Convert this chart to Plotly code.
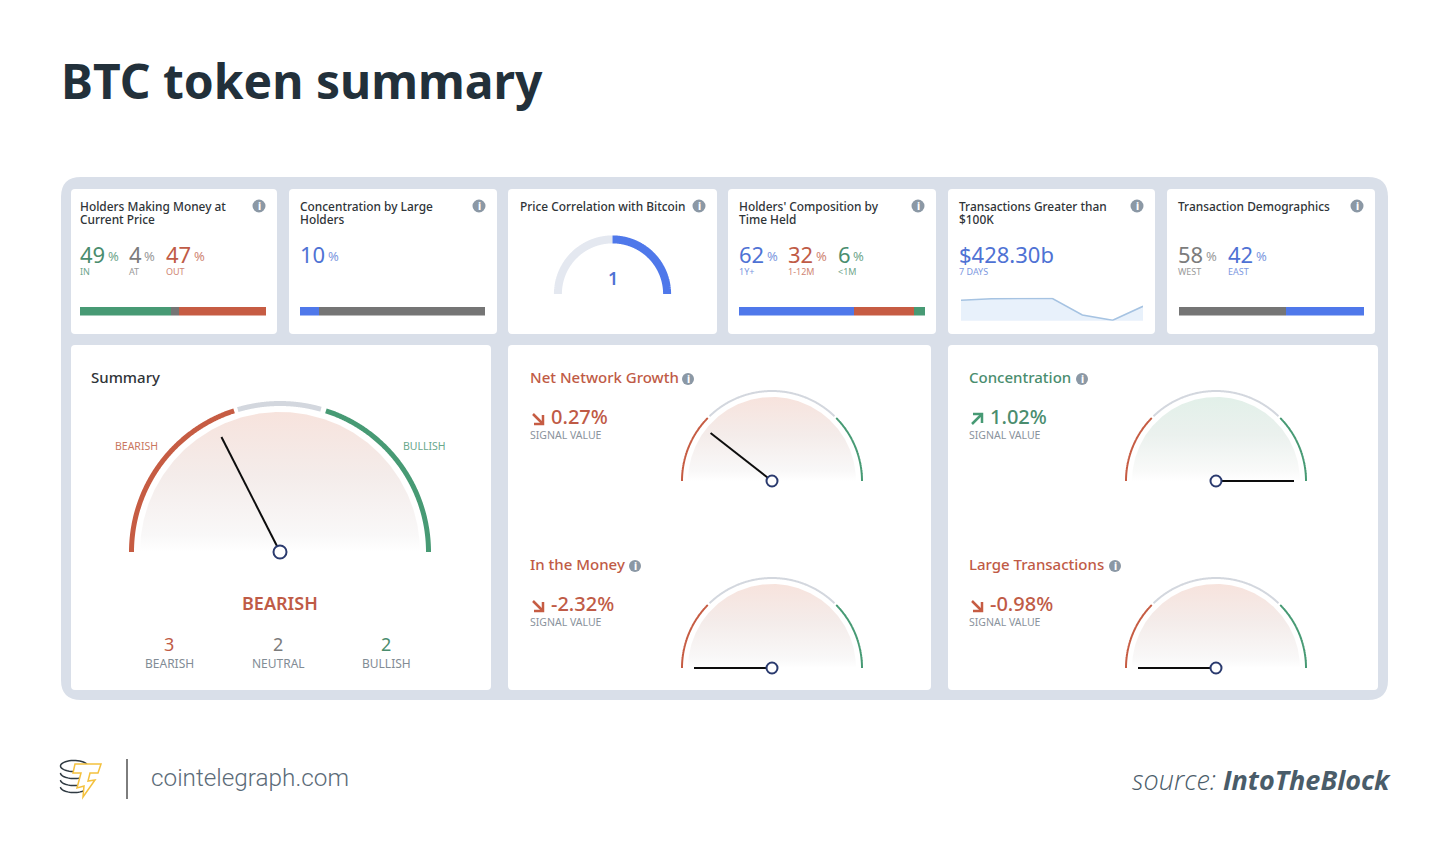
import numpy as np
import plotly.graph_objects as go

W, H = 1450, 859

RED = "#c65c43"
GREEN = "#479a74"
BLUE = "#4f78ea"
GREY = "#757575"
TXT_RED = "#bf5b46"
TXT_GREEN = "#4a8d6e"
TXT_BLUE = "#4f72d4"
TXT_GREY = "#7c7c7c"
FONT = "Noto Sans"

# top row cards
card_titles = ["Holders Making Money at<br>Current Price", "Concentration by Large<br>Holders",
               "Price Correlation with Bitcoin", "Holders' Composition by<br>Time Held",
               "Transactions Greater than<br>$100K", "Transaction Demographics"]

holders_labels = ["IN", "AT", "OUT"]
holders_values = [49, 4, 47]
concentration_values = [10, 90]
composition_labels = ["1Y+", "1-12M", "<1M"]
composition_values = [62, 32, 6]
demographics_labels = ["WEST", "EAST"]
demographics_values = [58, 42]
price_correlation = 1

transactions_total = "$428.30b"
transactions_label = "7 DAYS"
transactions_days = [1, 2, 3, 4, 5, 6, 7]
transactions_daily = [66.2, 67.7, 68.1, 68.2, 51.5, 46.2, 60.2]

# summary gauge
summary_title = "Summary"
summary_signal = "BEARISH"
summary_labels = ["BEARISH", "NEUTRAL", "BULLISH"]
summary_counts = [3, 2, 2]
summary_needle_deg = 117

# signal gauges
signal_names = ["Net Network Growth", "In the Money", "Concentration", "Large Transactions"]
signal_values = ["0.27%", "-2.32%", "1.02%", "-0.98%"]
signal_needle_deg = [142, 180, 0, 180]

fig = go.Figure()
shapes = []
notes = []
n_axes = 0


def fx(px):
    return px / W


def fy(py):
    return 1 - py / H


def text(px, py, s, size, color, anchor="left", weight=400, family=FONT, style="normal"):
    # Noto sits about a pixel low in its box
    notes.append(dict(x=fx(px), y=fy(py - 0.8), xref="paper", yref="paper", text=s, showarrow=False,
                      xanchor=anchor, yanchor="middle", align=anchor, borderpad=0, borderwidth=0,
                      font=dict(family=family, size=size, color=color, weight=weight, style=style)))


def path(points, fill=None, line=None, width=0, close=False, layer="above"):
    d = "M" + " L".join(f"{fx(x):.5f},{fy(y):.5f}" for x, y in points) + (" Z" if close else "")
    shapes.append(dict(type="path", path=d, xref="paper", yref="paper", layer=layer,
                       fillcolor=fill or "rgba(0,0,0,0)",
                       line=dict(color=line or "rgba(0,0,0,0)", width=width)))


def round_rect(x0, y0, x1, y1, r, color):
    p = lambda x, y: f"{fx(x):.5f},{fy(y):.5f}"
    d = (f"M{p(x0 + r, y0)} L{p(x1 - r, y0)} Q{p(x1, y0)} {p(x1, y0 + r)} "
         f"L{p(x1, y1 - r)} Q{p(x1, y1)} {p(x1 - r, y1)} "
         f"L{p(x0 + r, y1)} Q{p(x0, y1)} {p(x0, y1 - r)} "
         f"L{p(x0, y0 + r)} Q{p(x0, y0)} {p(x0 + r, y0)} Z")
    shapes.append(dict(type="path", path=d, xref="paper", yref="paper", layer="below",
                       fillcolor=color, line=dict(width=0)))


def info(px, py, r=6.5):
    shapes.append(dict(type="circle", xref="paper", yref="paper", fillcolor="#8b98a5", line=dict(width=0),
                       x0=fx(px - r), x1=fx(px + r), y0=fy(py + r), y1=fy(py - r)))
    text(px, py + 0.8, "i", 10, "white", "center", 800)


def add_axes(left, top, right, bottom, xrange, yrange):
    # small invisible axes pinned to a pixel box
    global n_axes
    n_axes += 1
    fig.layout[f"xaxis{n_axes}"] = dict(domain=[fx(left), fx(right)], range=xrange, visible=False,
                                        fixedrange=True, anchor=f"y{n_axes}")
    fig.layout[f"yaxis{n_axes}"] = dict(domain=[fy(bottom), fy(top)], range=yrange, visible=False,
                                        fixedrange=True, anchor=f"x{n_axes}")
    return f"x{n_axes}", f"y{n_axes}"


def stacked_bar(left, right, values, colors):
    xa, ya = add_axes(left, 307, right, 315.5, [0, sum(values)], [-0.5, 0.5])
    for v, c in zip(values, colors):
        fig.add_trace(go.Bar(x=[v], y=[0], width=1, orientation="h", marker=dict(color=c, line=dict(width=0)),
                             xaxis=xa, yaxis=ya, hoverinfo="skip", showlegend=False))


def arc(radius, a0, a1):
    t = np.radians(np.linspace(a0, a1, 240))
    return radius * np.cos(t), radius * np.sin(t)


def arc_line(radius, a0, a1, color, width, xa, ya):
    x, y = arc(radius, a0, a1)
    fig.add_trace(go.Scatter(x=x, y=y, mode="lines", line=dict(color=color, width=width, simplify=False),
                             xaxis=xa, yaxis=ya, hoverinfo="skip", showlegend=False))


def gauge(cx, cy, r_arc, r_dome, arc_w, bands, tints, needle_deg, needle_len, needle_w, knob):
    box = r_arc + 8
    xa, ya = add_axes(cx - box, cy - box, cx + box, cy + 12, [-box, box], [-12, box])
    x, y = arc(r_dome, 180, 0)
    fig.add_trace(go.Scatter(x=x, y=y, mode="lines", line=dict(width=0), fill="toself",
                             fillgradient=dict(type="vertical", colorscale=tints),
                             xaxis=xa, yaxis=ya, hoverinfo="skip", showlegend=False))
    for (a0, a1), c in zip(bands, [RED, "#d3d7de", GREEN]):
        arc_line(r_arc, a0, a1, c, arc_w, xa, ya)
    a = np.radians(needle_deg)
    fig.add_trace(go.Scatter(x=[0, needle_len * np.cos(a)], y=[0, needle_len * np.sin(a)], mode="lines",
                             line=dict(color="#0d0d0d", width=needle_w),
                             xaxis=xa, yaxis=ya, hoverinfo="skip", showlegend=False))
    fig.add_trace(go.Scatter(x=[0], y=[0], mode="markers", cliponaxis=False,
                             marker=dict(size=knob, color="white", line=dict(color="#2a3a6e", width=2)),
                             xaxis=xa, yaxis=ya, hoverinfo="skip", showlegend=False))


# panels
round_rect(61, 177, 1388, 700, 20, "#d9dfe9")
top_cards = [(71, 277), (289, 497), (508, 717), (728, 936), (948, 1155), (1167, 1375)]
for x0, x1 in top_cards:
    round_rect(x0, 189, x1, 334, 4, "white")
for x0, x1 in [(71, 491), (508, 931), (948, 1378)]:
    round_rect(x0, 345, x1, 690, 4, "white")

# card titles + info icons
title_x = [80, 300, 520, 739, 959, 1178]
for tx, t, (x0, x1) in zip(title_x, card_titles, top_cards):
    for i, line in enumerate(t.split("<br>")):
        text(tx, 207 + 13 * i, line, 11.9, "#2f3438", weight=500)
    info(x1 - 18, 206)


# big percentages with their small % signs
def figures(xs, values, labels, colors, soft):
    for x, v, l, c, s in zip(xs, values, labels, colors, soft):
        text(x, 254.5, str(v), 22, c)
        text(x + (15 if v < 10 else 28), 257, "%", 13, s)
        text(x, 272, l, 9, s)


figures([80, 129, 166], holders_values, holders_labels, [TXT_GREEN, TXT_GREY, TXT_RED],
        ["#6fa68c", "#9a9a9a", "#cf8674"])
stacked_bar(80, 266, holders_values, [GREEN, GREY, RED])

figures([300], concentration_values[:1], [""], [TXT_BLUE], ["#7d98e0"])
stacked_bar(300, 485, concentration_values, [BLUE, GREY])

# correlation gauge
xa, ya = add_axes(540, 225, 685, 294, [-72.5, 72.5], [0, 69])
arc_line(54.6, 180, 90, "#e4e8f0", 8, xa, ya)
arc_line(54.6, 90, 90 - 90 * price_correlation, BLUE, 8, xa, ya)
text(612.5, 279, str(price_correlation), 18, TXT_BLUE, "center", 600)

figures([739, 788, 838], composition_values, composition_labels, [TXT_BLUE, TXT_RED, TXT_GREEN],
        ["#7d98e0", "#cf8674", "#6fa68c"])
stacked_bar(739, 925, composition_values, [BLUE, RED, GREEN])

text(959, 254.5, transactions_total, 22, TXT_BLUE)
text(959, 272, transactions_label, 9, "#7d98e0")
xa, ya = add_axes(961, 297.8, 1143, 320.8, [1, 7], [45.7, 68.7])
fig.add_trace(go.Scatter(x=transactions_days, y=transactions_daily, mode="lines", fill="tozeroy",
                         fillcolor="#e8f1fb", line=dict(color="#a6c3e2", width=1.5),
                         xaxis=xa, yaxis=ya, hoverinfo="skip", showlegend=False))

figures([1178, 1228], demographics_values, demographics_labels, [TXT_GREY, TXT_BLUE], ["#9a9a9a", "#7d98e0"])
stacked_bar(1178.5, 1364, demographics_values, [GREY, BLUE])

# summary
red_tint = [[0, "#ffffff"], [0.12, "#f9f8f8"], [0.55, "#f4ecea"], [1, "#f7e3dd"]]
green_tint = [[0, "#ffffff"], [0.12, "#f9faf9"], [0.55, "#ebf1ee"], [1, "#e2f0e9"]]

text(91, 378, summary_title, 15, "#2f3438", weight=500)
gauge(280, 552, 148.5, 140, 5, [(180, 108), (106.5, 74), (72, 0)], red_tint, summary_needle_deg, 129, 2, 13)
text(136, 447, summary_labels[0], 10.5, "#c9775f", "center")
text(424, 447, summary_labels[2], 10.5, "#6aa88c", "center")
text(280, 604, summary_signal, 18, TXT_RED, "center", 600)
for x, c, l, col in zip([169, 278, 386], summary_counts, summary_labels, [TXT_RED, TXT_GREY, TXT_GREEN]):
    text(x, 644.5, str(c), 18, col, "center")
    text(x, 664, l, 12, "#828c95", "center")

# signal panels
small_bands = [(180, 135.5), (134, 46), (44.5, 0)]
cells = [(530, 378, 688, 772, 481), (530, 565, 635, 772, 668), (969, 378, 1082, 1216, 481), (969, 565, 1115, 1216, 668)]
for (tx, ty, ix, cx, cy), name, val, deg in zip(cells, signal_names, signal_values, signal_needle_deg):
    up = not (val.startswith("-") or name == "Net Network Growth")
    col = TXT_GREEN if up else TXT_RED
    text(tx, ty, name, 15, col, weight=500)
    info(ix, ty + 1, 6)
    ay = ty + 35
    if up:
        path([(tx + 3, ay + 11), (tx + 13, ay + 1)], line=GREEN, width=2.5)
        path([(tx + 4, ay + 1), (tx + 13, ay + 1), (tx + 13, ay + 10)], line=GREEN, width=2.5)
    else:
        path([(tx + 3, ay + 1), (tx + 13, ay + 11)], line=RED, width=2.5)
        path([(tx + 13, ay + 2), (tx + 13, ay + 11), (tx + 4, ay + 11)], line=RED, width=2.5)
    text(tx + 21, ty + 39.5, val, 20, col, weight=500)
    text(tx, ty + 58, "SIGNAL VALUE", 10.5, "#8a939c")
    gauge(cx, cy, 90, 84, 2, small_bands, green_tint if up else red_tint, deg, 78, 2, 11)

# header / footer
text(61, 81, "BTC token summary", 48, "#22303a", weight=700)
text(151, 778, "cointelegraph.com", 24.3, "#5b6b78", weight=300, family="Roboto")
text(1391, 780, "<i>source: <b>IntoTheBlock</b></i>", 27, "#4a5c69", "right", weight=300, family="Open Sans")
path([(127, 759), (127, 799)], line="#7d7d7d", width=2)

# logo, coin stack and bolt
ex, ew, eh = 74, 13.5, 5.5
t = np.linspace(0, 2 * np.pi, 40)
path(list(zip(ex + ew * np.cos(t), 766 + eh * np.sin(t))), line="#2f3a42", width=1.5, close=True)
t = np.linspace(0, np.pi, 24)
for ey in [773, 780, 787]:
    path(list(zip(ex + ew * np.cos(t), ey + eh * np.sin(t))), line="#2f3a42", width=1.5)
path([(75, 764), (101, 764), (98, 773), (90, 773), (88, 781), (95, 780), (83, 797), (84, 786), (77, 788), (81, 773), (73, 773)],
     fill="white", line="#f4c13e", width=1.5, close=True)

fig.update_layout(width=W, height=H, margin=dict(l=0, r=0, t=0, b=0), paper_bgcolor="white",
                  plot_bgcolor="rgba(0,0,0,0)", barmode="stack", showlegend=False,
                  shapes=shapes, annotations=notes)

fig.write_html("out.html", config={"displayModeBar": False},
               post_script="document.body.style.margin='0';")
